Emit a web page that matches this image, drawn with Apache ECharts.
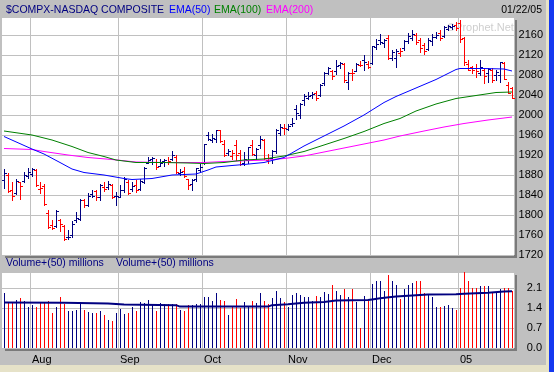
<!DOCTYPE html>
<html><head><meta charset="utf-8">
<script src="https://cdn.jsdelivr.net/npm/echarts@6/dist/echarts.min.js"></script>
<style>html,body{margin:0;padding:0;background:#c0c0c0;}#c{width:554px;height:372px;}</style>
</head><body><div id="c"></div>
<script>
const dates = [
'07/22','07/23','07/26','07/27','07/28','07/29','07/30',
'08/02','08/03','08/04','08/05','08/06','08/09','08/10','08/11','08/12','08/13','08/16','08/17','08/18','08/19','08/20','08/23','08/24','08/25','08/26','08/27','08/30','08/31',
'09/01','09/02','09/03','09/07','09/08','09/09','09/10','09/13','09/14','09/15','09/16','09/17','09/20','09/21','09/22','09/23','09/24','09/27','09/28','09/29','09/30',
'10/01','10/04','10/05','10/06','10/07','10/08','10/11','10/12','10/13','10/14','10/15','10/18','10/19','10/20','10/21','10/22','10/25','10/26','10/27','10/28','10/29',
'11/01','11/02','11/03','11/04','11/05','11/08','11/09','11/10','11/11','11/12','11/15','11/16','11/17','11/18','11/19','11/22','11/23','11/24','11/26','11/29','11/30',
'12/01','12/02','12/03','12/06','12/07','12/08','12/09','12/10','12/13','12/14','12/15','12/16','12/17','12/20','12/21','12/22','12/23','12/27','12/28','12/29','12/30','12/31',
'01/03','01/04','01/05','01/06','01/07','01/10','01/11','01/12','01/13','01/14','01/18','01/19','01/20','01/21'];
const monthLabels = {'08':'Aug','09':'Sep','10':'Oct','11':'Nov','12':'Dec','01':'05'};

const opens = [1870,1880,1851,1845,1866,1868,1878,
1882,1890,1852,1858,1805,1780,1778,1790,1778,1757,1760,1790,1792,1830,1820,1842,1848,1837,1857,1856,1860,1838,
1836,1850,1866,1852,1860,1852,1866,1905,1912,1907,1899,1908,1906,1912,1916,1884,1888,1872,1862,1872,1890,
1905,1960,1950,1952,1970,1942,1924,1918,1940,1925,1904,1910,1940,1920,1940,1950,1910,1915,1928,1965,1975,
1973,1983,2013,2000,2030,2035,2040,2044,2040,2065,2085,2088,2088,2100,2103,2066,2085,2088,2100,2110,2102,
2105,2137,2150,2145,2155,2115,2115,2125,2135,2148,2155,2160,2150,2140,2132,2148,2157,2165,2158,2172,2176,2180,
2184,2155,2103,2096,2095,2085,2090,2085,2090,2080,2080,2104,2060,2055];
const highs = [1893,1884,1866,1873,1866,1886,1895,
1895,1893,1866,1862,1810,1790,1810,1792,1780,1770,1788,1806,1833,1832,1845,1850,1850,1862,1866,1868,1862,1847,
1860,1876,1871,1866,1870,1872,1897,1917,1916,1912,1913,1913,1916,1929,1921,1892,1896,1873,1873,1894,1902,
1943,1967,1963,1971,1971,1950,1933,1931,1950,1930,1927,1937,1950,1934,1958,1953,1922,1931,1973,1982,1982,
1983,1995,2020,2025,2043,2047,2047,2049,2062,2086,2096,2090,2111,2106,2104,2087,2092,2105,2108,2120,2108,
2139,2153,2163,2153,2160,2130,2133,2134,2151,2164,2171,2164,2154,2144,2154,2162,2167,2171,2178,2180,2182,2186,
2191,2157,2111,2098,2102,2110,2094,2094,2095,2090,2107,2106,2067,2057];
const lows = [1855,1847,1831,1843,1832,1866,1874,
1878,1858,1845,1820,1775,1772,1776,1768,1751,1752,1756,1786,1790,1816,1818,1836,1830,1830,1848,1852,1835,1820,
1836,1847,1843,1849,1846,1850,1865,1904,1903,1893,1898,1899,1902,1910,1884,1880,1877,1853,1850,1868,1887,
1903,1950,1947,1946,1946,1918,1920,1913,1910,1900,1900,1905,1920,1912,1935,1913,1905,1905,1925,1960,1962,
1970,1978,1993,1995,2020,2033,2035,2030,2038,2060,2083,2073,2083,2094,2067,2053,2071,2088,2098,2090,2095,
2103,2133,2143,2137,2113,2110,2096,2119,2131,2144,2151,2143,2127,2122,2130,2141,2154,2150,2156,2170,2173,2170,
2147,2101,2090,2085,2077,2081,2064,2067,2067,2070,2067,2073,2045,2034];
const closes = [1884,1849,1839,1869,1858,1881,1887,
1892,1860,1855,1822,1777,1775,1809,1782,1752,1757,1783,1795,1831,1820,1838,1839,1837,1860,1853,1862,1836,1838,
1850,1873,1845,1858,1851,1869,1894,1910,1915,1897,1904,1910,1908,1921,1886,1886.4,1879,1860,1870,1894,1897,
1942,1952,1955,1971,1949,1920,1929,1925,1920,1903,1912,1937,1923,1933,1953,1915,1914,1929,1970,1976,1974,
1979,1984,2004,2023,2038,2039,2043,2034,2061,2085,2094,2078,2099,2104,2070,2085,2084,2102,2101,2106,2096,
2138,2143,2147,2151,2114,2126,2129,2128,2148,2159,2162,2146,2135,2128,2150,2157,2160,2154,2177,2177.5,2178,2175,
2152,2107,2091,2090,2088,2097,2079,2092,2070,2087,2106,2073,2045,2034];
const volumes = [1.92,1.60,1.60,1.69,1.76,1.66,1.45,
1.49,1.45,1.62,1.60,1.66,1.22,1.43,1.78,1.55,1.31,1.28,1.34,1.55,1.34,1.25,1.22,1.24,1.28,1.14,0.99,0.96,1.24,
1.37,1.19,1.24,1.43,1.28,1.60,1.57,1.69,1.55,1.31,1.57,1.55,1.55,1.53,1.55,1.34,1.29,1.49,1.52,1.55,1.55,
1.80,1.80,1.66,1.92,1.69,1.66,1.14,1.43,1.72,1.40,1.60,1.43,1.66,1.57,1.92,1.66,1.55,1.76,2.01,1.76,1.60,
1.43,1.87,1.92,1.86,1.78,1.78,1.64,1.82,1.78,1.96,1.90,2.19,2.01,1.87,2.06,1.78,2.07,1.60,0.69,1.82,1.66,
2.25,2.33,2.36,2.01,2.57,2.33,2.22,1.72,2.06,2.19,2.28,2.36,2.36,1.94,1.90,1.78,1.43,1.45,1.48,1.52,1.40,1.34,
2.11,2.65,2.33,2.10,2.10,2.16,2.17,2.16,1.96,1.96,2.06,2.11,2.11,1.98];
const ema50 = [[0,1957],[7,1932],[10,1922],[14,1905],[17,1892],[20,1885],[25,1880],[30,1873],[32,1871],[37,1873],[42,1880],[48,1882],[51,1890],[53,1896],[57,1899],[60,1901],[65,1905],[70,1915],[75,1938],[80,1958],[85,1978],[90,2000],[95,2025],[98,2037],[103,2054],[108,2071],[113,2091],[114,2093],[120,2093],[125,2092],[127,2088]];
const ema100 = [[0,1968],[7,1960],[12,1950],[17,1937],[21,1925],[25,1917],[28,1910],[33,1905],[40,1905],[46,1904],[50,1903],[55,1905],[60,1910],[65,1912],[70,1918],[75,1927],[80,1940],[85,1953],[90,1967],[95,1983],[99,1993],[103,2008],[108,2022],[113,2033],[118,2039],[123,2045],[127,2046]];
const ema200 = [[0,1933],[7,1931],[10,1927],[16,1920],[21,1915],[27,1911],[33,1906],[40,1905],[50,1905],[55,1907],[62,1909],[66,1910],[70,1913],[75,1918],[80,1926],[85,1934],[90,1942],[95,1950],[99,1958],[105,1968],[110,1976],[115,1983],[121,1990],[127,1996]];
const volMA = [[0,1.59],[15,1.58],[26,1.56],[30,1.52],[43,1.50],[44,1.45],[66,1.45],[67,1.50],[71,1.53],[75,1.58],[80,1.61],[83,1.66],[91,1.68],[92,1.70],[94,1.74],[98,1.80],[102,1.84],[106,1.87],[113,1.88],[115,1.90],[121,1.93],[125,1.98],[127,1.99]];
const priceTicks = {min:1720, max:2196, step:40};
const volTicks = {min:0, max:2.66, step:0.7};

const NAVY = '#000080', RED = '#ff0000';
const FONT = "'Liberation Sans', Arial, sans-serif";
function barColor(i){ return (i === 0 || closes[i] >= closes[i-1]) ? NAVY : RED; }
function isMonthStart(i){ return i > 0 && dates[i].slice(0,2) !== dates[i-1].slice(0,2); }

const chart = echarts.init(document.getElementById('c'), null, {renderer:'canvas'});
const gridBase = {left:2, right:40, show:true, backgroundColor:'#ffffff', borderWidth:0,
  shadowColor:'#7a7a7a', shadowOffsetX:3, shadowOffsetY:3, shadowBlur:0};
const splitX = {show:true, interval:(i)=>isMonthStart(i), lineStyle:{color:'#c0c0c0', width:1}};

chart.setOption({
  animation:false,
  backgroundColor:'#c0c0c0',
  grid:[Object.assign({top:17, height:238}, gridBase), Object.assign({top:272, height:76}, gridBase)],
  xAxis:[
    {type:'category', gridIndex:0, data:dates, boundaryGap:true, axisLine:{show:false}, axisTick:{show:false}, axisLabel:{show:false}, splitLine:splitX},
    {type:'category', gridIndex:1, data:dates, boundaryGap:true, axisLine:{show:false}, axisTick:{show:false}, splitLine:splitX,
     axisLabel:{show:true, interval:(i)=>isMonthStart(i), formatter:(v)=>monthLabels[v.slice(0,2)], align:'left', margin:6,
       fontSize:11, fontFamily:FONT, color:'#000'}}
  ],
  yAxis:[
    {type:'value', gridIndex:0, position:'right', min:priceTicks.min, max:priceTicks.max, interval:priceTicks.step,
     axisLine:{show:false}, axisTick:{show:false}, splitLine:{show:true, lineStyle:{color:'#c0c0c0', width:1}},
     axisLabel:{showMaxLabel:false, align:'right', margin:29, fontSize:11, fontFamily:FONT, color:'#000', formatter:(v)=>String(v)}},
    {type:'value', gridIndex:1, position:'right', min:volTicks.min, max:volTicks.max, interval:volTicks.step,
     axisLine:{show:false}, axisTick:{show:false}, splitLine:{show:true, lineStyle:{color:'#c0c0c0', width:1}},
     axisLabel:{showMaxLabel:false, align:'right', margin:28, fontSize:11, fontFamily:FONT, color:'#000', formatter:(v)=>v.toFixed(1)}}
  ],
  series:[
    {type:'custom', xAxisIndex:0, yAxisIndex:0, silent:true, z:2,
     data: dates.map((d,i)=>[i, opens[i], highs[i], lows[i], closes[i]]),
     encode:{x:0, y:[1,2,3,4]},
     renderItem:(params, api)=>{
       const i = api.value(0);
       const pH = api.coord([i, api.value(2)]);
       const pL = api.coord([i, api.value(3)]);
       const pO = api.coord([i, api.value(1)]);
       const pC = api.coord([i, api.value(4)]);
       const cx = Math.round(pH[0]);
       const c = barColor(i);
       const yH = Math.round(pH[1]), yL = Math.round(pL[1]);
       return {type:'group', children:[
         {type:'rect', shape:{x:cx, y:yH, width:1, height:Math.max(1, yL - yH + 1)}, style:{fill:c}},
         {type:'rect', shape:{x:cx-2, y:Math.round(pO[1]), width:2, height:1}, style:{fill:c}},
         {type:'rect', shape:{x:cx+1, y:Math.round(pC[1]), width:2, height:1}, style:{fill:c}}
       ]};
     }},
    {type:'line', xAxisIndex:0, yAxisIndex:0, data:ema200, showSymbol:false, silent:true, z:3, lineStyle:{color:'#ff00ff', width:1}},
    {type:'line', xAxisIndex:0, yAxisIndex:0, data:ema100, showSymbol:false, silent:true, z:3, lineStyle:{color:'#008000', width:1}},
    {type:'line', xAxisIndex:0, yAxisIndex:0, data:ema50, showSymbol:false, silent:true, z:3, lineStyle:{color:'#0000ff', width:1}},
    {type:'custom', xAxisIndex:1, yAxisIndex:1, silent:true, z:2,
     data: volumes.map((v,i)=>[i, v]),
     encode:{x:0, y:1},
     renderItem:(params, api)=>{
       const i = api.value(0);
       const pT = api.coord([i, api.value(1)]);
       const pB = api.coord([i, 0]);
       const cx = Math.round(pT[0]);
       const yT = Math.round(pT[1]), yB = Math.round(pB[1]);
       return {type:'rect', shape:{x:cx, y:yT, width:1, height:yB - yT}, style:{fill:barColor(i)}};
     }},
    {type:'line', xAxisIndex:1, yAxisIndex:1, data:volMA, showSymbol:false, silent:true, z:3, lineStyle:{color:NAVY, width:2}}
  ],
  graphic:[
    {type:'rect', z:100, shape:{x:0, y:365, width:549, height:7}, style:{fill:'#e6e2c8'}},
    {type:'rect', z:100, shape:{x:546, y:0, width:3, height:372}, style:{fill:'#e6e2c8'}},
    {type:'rect', z:100, shape:{x:549, y:0, width:5, height:372}, style:{fill:'#1438f0'}},
    {type:'text', z:100, x:6, y:10, style:{text:'$COMPX-NASDAQ COMPOSITE', fill:NAVY, font:'10.5px '+FONT, textVerticalAlign:'middle', verticalAlign:'middle'}},
    {type:'text', z:100, x:169, y:10, style:{text:'EMA(50)', fill:'#0000ff', font:'10.5px '+FONT, textVerticalAlign:'middle', verticalAlign:'middle'}},
    {type:'text', z:100, x:214, y:10, style:{text:'EMA(100)', fill:'#008000', font:'10.5px '+FONT, textVerticalAlign:'middle', verticalAlign:'middle'}},
    {type:'text', z:100, x:266, y:10, style:{text:'EMA(200)', fill:'#ff00ff', font:'10.5px '+FONT, textVerticalAlign:'middle', verticalAlign:'middle'}},
    {type:'text', z:100, x:542, y:10, style:{text:'01/22/05', fill:'#000', font:'10.5px '+FONT, textAlign:'right', align:'right', textVerticalAlign:'middle', verticalAlign:'middle'}},
    {type:'text', z:100, x:6, y:263, style:{text:'Volume+(50) millions', fill:NAVY, font:'10.5px '+FONT, textVerticalAlign:'middle', verticalAlign:'middle'}},
    {type:'text', z:100, x:116, y:263, style:{text:'Volume+(50) millions', fill:NAVY, font:'10.5px '+FONT, textVerticalAlign:'middle', verticalAlign:'middle'}},
    {type:'text', z:1, x:447, y:28, style:{text:'\u00A9Prophet.Net', fill:'#cfcfcf', font:'11px '+FONT, textVerticalAlign:'middle', verticalAlign:'middle'}}
  ]
});
</script></body></html>
